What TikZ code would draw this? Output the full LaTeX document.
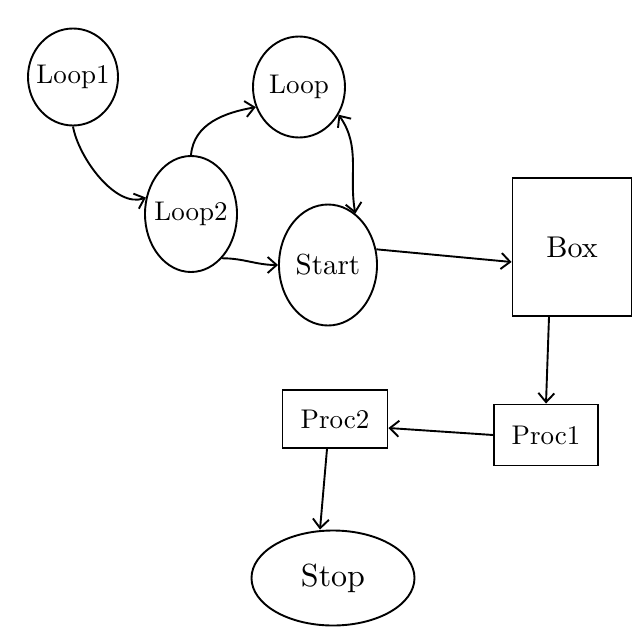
\documentclass[tikz,border=0pt]{standalone}
\usepackage{fontspec}
\usetikzlibrary{shapes.geometric,arrows.meta}
\newcommand\handtxt[2][2.7]{\scalebox{#1}{#2}}
\tikzset{
  lbl/.style={draw,line width=1.9pt,inner sep=0pt},
  oval/.style={lbl,ellipse},
  tightoval/.style={oval,inner xsep=-10pt},
  boxnode/.style={lbl,rectangle},
  arr/.style={line width=1.9pt,-{Straight Barb[length=9pt,width=16pt,line width=1.9pt]}},
  dbl/.style={line width=1.9pt,{Straight Barb[length=9pt,width=16pt,line width=1.9pt]}-{Straight Barb[length=9pt,width=16pt,line width=1.9pt]}}}
\begin{document}
\begin{tikzpicture}[x=1pt,y=-1pt]
\useasboundingbox (0,0) rectangle (640,640);
\fill[white] (0,0) rectangle (640,640);
\node[tightoval,minimum width=90pt,minimum height=97pt] (loopa) at (73,77) {\handtxt{Loop1}};
\node[oval,minimum width=92pt,minimum height=101pt] (loop) at (299,87) {\handtxt{Loop}};
\node[tightoval,minimum width=92pt,minimum height=116pt] (loopb) at (191,214) {\handtxt{Loop2}};
\node[oval,minimum width=98pt,minimum height=121pt] (start) at (328,265) {\handtxt[2.9]{Start}};
\node[boxnode,minimum width=119pt,minimum height=138pt] (box) at (572,247) {\handtxt[3.0]{Box}};
\node[boxnode,minimum width=104pt,minimum height=61pt] (proca) at (546,435) {\handtxt{Proc1}};
\node[boxnode,minimum width=105pt,minimum height=58pt] (procb) at (335,419) {\handtxt{Proc2}};
\node[oval,minimum width=163pt,minimum height=95pt] (stop) at (333,578) {\handtxt[3.2]{Stop}};
\draw[arr] (loopa.south) to[out=-80,in=200,looseness=0.8] (loopb.160);
\draw[arr] (loopb.north) to[out=85,in=190] (loop.205);
\draw[arr] (loopb.-55) to[out=0,in=180] (start.west);
\draw[dbl] (loop.-35) to[out=-55,in=100] (start.62);
\draw[arr] (start.18) -- ([yshift=-15pt]box.west);
\draw[arr] ([xshift=-23pt]box.south) -- (proca.north);
\draw[arr] (proca.west) -- ([yshift=-9pt]procb.east);
\draw[arr] ([xshift=-8pt]procb.south) -- ([xshift=-13pt]stop.north);
\end{tikzpicture}
\end{document}
